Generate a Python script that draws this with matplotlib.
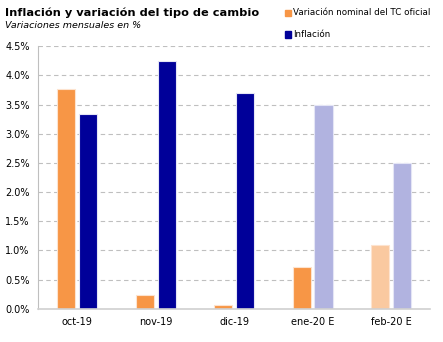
import numpy as np
import matplotlib.pyplot as plt
from matplotlib.patches import Rectangle

# data
meses = ["oct-19", "nov-19", "dic-19", "ene-20 E", "feb-20 E"]
tc_oficial = [3.77, 0.24, 0.07, 0.72, 1.10]
inflacion = [3.34, 4.24, 3.70, 3.50, 2.50]
estimado = [False, False, False, True, True]

naranja, naranja_claro = "#F79646", "#FAC9A0"
azul, azul_claro = "#000099", "#B1B3E0"

fig = plt.figure(figsize=(4.43, 3.42), dpi=100)
ax = fig.add_axes([0.086, 0.097, 0.885, 0.768])

x = np.arange(len(meses))
w = 0.23
col_tc = [naranja if not (e and i == 4) else naranja_claro for i, e in enumerate(estimado)]
col_inf = [azul_claro if e else azul for e in estimado]
ax.bar(x - 0.14, tc_oficial, w, color=col_tc, edgecolor="#FDE3CF", linewidth=0.8, zorder=2)
ax.bar(x + 0.14, inflacion, w, color=col_inf, edgecolor="#E4E5F5", linewidth=0.8, zorder=2)

ax.set_xlim(-0.5, 4.5)
ax.set_ylim(0, 4.5)
ax.set_yticks(np.arange(0, 4.51, 0.5))
ax.set_yticklabels([f"{v:.1f}%" for v in np.arange(0, 4.51, 0.5)], fontsize=7)
ax.set_xticks(x)
ax.set_xticklabels(meses, fontsize=7)
ax.tick_params(length=0, pad=6)
ax.yaxis.grid(True, color="#BFBFBF", linestyle=(0, (4, 3)), linewidth=0.8, zorder=0)
for s in ["top", "right"]:
    ax.spines[s].set_visible(False)
ax.spines["left"].set_color("#BFBFBF")
ax.spines["bottom"].set_color("#D0D0D0")
ax.spines["bottom"].set_linewidth(1.2)

# titles
fig.text(0.011, 0.962, "Inflación y variación del tipo de cambio", fontsize=8.2,
         fontweight="bold", va="center")
fig.text(0.011, 0.925, "Variaciones mensuales en %", fontsize=6.8,
         style="italic", va="center")

# legend
for yy, c, lab in [(0.962, naranja, "Variación nominal del TC oficial"),
                   (0.9, azul, "Inflación")]:
    fig.patches.append(Rectangle((0.643, yy - 0.01), 0.014, 0.018, color=c,
                                 transform=fig.transFigure, figure=fig))
    fig.text(0.661, yy, lab, fontsize=6.3, va="center")

plt.savefig("out.png")
